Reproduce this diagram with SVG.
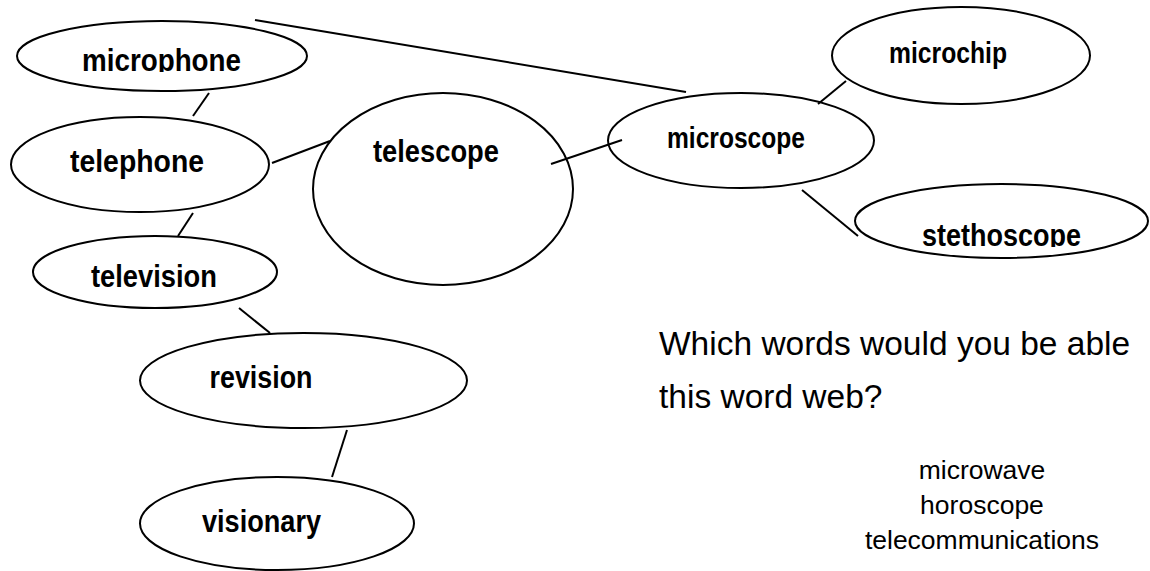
<svg xmlns="http://www.w3.org/2000/svg" width="1150" height="571" viewBox="0 0 1150 571">
<style>
.node ellipse{fill:#fff;stroke:#000;stroke-width:2}
.lbl{font-family:"Liberation Sans",Arial,sans-serif;font-weight:bold;font-size:31.5px;fill:#000;text-anchor:middle}
.lbl.sm{font-size:29.5px}
.conn line{stroke:#000;stroke-width:2}
.q{font-family:"Liberation Sans",Arial,sans-serif;font-size:33.5px;fill:#000}
.w{font-family:"Liberation Sans",Arial,sans-serif;font-size:26.5px;fill:#000;text-anchor:middle}
</style>
<defs>
<clipPath id="clipMic"><rect x="0" y="0" width="400" height="72"/></clipPath>
<clipPath id="clipSteth"><rect x="850" y="180" width="300" height="67"/></clipPath>
</defs>
<rect width="1150" height="571" fill="#fff"/>
<g id="microphone" class="node">
<ellipse cx="162" cy="56" rx="145" ry="35"/>
<text class="lbl" x="161.5" y="71" textLength="159" lengthAdjust="spacingAndGlyphs" clip-path="url(#clipMic)">microphone</text>
</g>
<g id="telephone" class="node">
<ellipse cx="140" cy="164.5" rx="129" ry="47.5"/>
<text class="lbl" x="137" y="172" textLength="134" lengthAdjust="spacingAndGlyphs">telephone</text>
</g>
<g id="telescope" class="node">
<ellipse cx="443" cy="189" rx="130" ry="96"/>
<text class="lbl" x="436" y="162" textLength="126" lengthAdjust="spacingAndGlyphs">telescope</text>
</g>
<g id="television" class="node">
<ellipse cx="155" cy="272" rx="122" ry="36"/>
<text class="lbl" x="154" y="287" textLength="126" lengthAdjust="spacingAndGlyphs">television</text>
</g>
<g id="revision" class="node">
<ellipse cx="303.5" cy="380.5" rx="163.5" ry="47.5"/>
<text class="lbl" x="261" y="388" textLength="103" lengthAdjust="spacingAndGlyphs">revision</text>
</g>
<g id="visionary" class="node">
<ellipse cx="277" cy="523.5" rx="137" ry="46.5"/>
<text class="lbl" x="261.5" y="532" textLength="119" lengthAdjust="spacingAndGlyphs">visionary</text>
</g>
<g id="microscope" class="node">
<ellipse cx="741" cy="140.5" rx="133" ry="47.5"/>
<text class="lbl sm" x="736" y="148" textLength="138" lengthAdjust="spacingAndGlyphs">microscope</text>
</g>
<g id="microchip" class="node">
<ellipse cx="961" cy="55.5" rx="129" ry="48.5"/>
<text class="lbl sm" x="948" y="63" textLength="118" lengthAdjust="spacingAndGlyphs">microchip</text>
</g>
<g id="stethoscope" class="node">
<ellipse cx="1001.5" cy="221" rx="146.5" ry="37"/>
<text class="lbl" x="1001.5" y="246" textLength="159" lengthAdjust="spacingAndGlyphs" clip-path="url(#clipSteth)">stethoscope</text>
</g>
<g id="connectors" class="conn">
<line x1="209" y1="93" x2="193" y2="116"/>
<line x1="272" y1="163" x2="330" y2="141"/>
<line x1="255" y1="20" x2="686" y2="92"/>
<line x1="551" y1="164" x2="622" y2="140"/>
<line x1="846" y1="81" x2="818" y2="104"/>
<line x1="802" y1="190" x2="858" y2="236"/>
<line x1="193" y1="213" x2="178" y2="236"/>
<line x1="239" y1="308" x2="270" y2="333"/>
<line x1="347" y1="430" x2="332" y2="477"/>
</g>
<g id="question">
<text class="q" x="659" y="355">Which words would you be able</text>
<text class="q" x="659" y="408">this word web?</text>
</g>
<g id="wordlist">
<text class="w" x="982" y="479">microwave</text>
<text class="w" x="982" y="514">horoscope</text>
<text class="w" x="982" y="549">telecommunications</text>
</g>
</svg>
